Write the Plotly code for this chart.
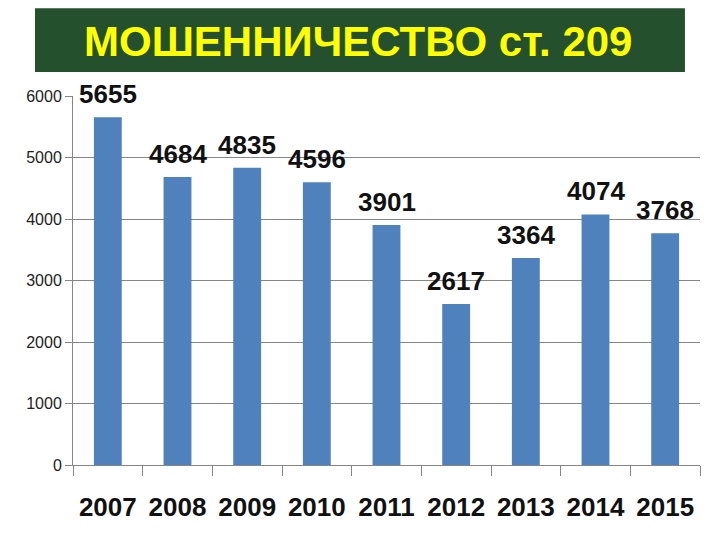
import plotly.graph_objects as go

years = ["2007", "2008", "2009", "2010", "2011", "2012", "2013", "2014", "2015"]
values = [5655, 4684, 4835, 4596, 3901, 2617, 3364, 4074, 3768]
y_ticks = [0, 1000, 2000, 3000, 4000, 5000, 6000]
title_text = "МОШЕННИЧЕСТВО ст. 209"

fig = go.Figure()
fig.add_trace(go.Bar(
    x=years, y=values,
    marker=dict(color="#4f81bd", line=dict(width=0)),
    hoverinfo="x+y",
))

for i, v in enumerate(values):
    fig.add_annotation(
        x=i, y=v, text="<b>" + str(v) + "</b>", showarrow=False,
        yanchor="bottom", yshift=6,
        font=dict(family="Liberation Sans", size=26, color="#111111"),
    )

# title banner
fig.add_shape(type="rect", xref="paper", yref="paper",
              x0=-0.0606, x1=0.976, y0=1.065, y1=1.238,
              fillcolor="#24502e", line=dict(width=0), layer="below")
fig.add_annotation(xref="paper", yref="paper", x=0.4545, y=1.148,
                   text="<b>" + title_text + "</b>", showarrow=False,
                   xanchor="center", yanchor="middle",
                   font=dict(family="Liberation Sans", size=42, color="#ffff00"))

fig.update_layout(
    width=720, height=540,
    margin=dict(l=73, r=20, t=96, b=75, autoexpand=False),
    paper_bgcolor="white", plot_bgcolor="white",
    bargap=0.6, showlegend=False,
    font=dict(family="Liberation Sans", color="#222222"),
)
fig.update_xaxes(
    type="category", range=[-0.5, len(years) - 0.5],
    automargin=False,
    showline=True, linecolor="#868686", linewidth=1,
    ticks="outside", tickson="boundaries", ticklen=10, tickcolor="#868686",
    tickfont=dict(family="Liberation Sans", size=26, color="#111111", weight="bold"),
    tickangle=0, ticklabelstandoff=19,
    showgrid=False,
)
fig.update_yaxes(
    range=[0, 6000], tickvals=y_ticks,
    automargin=False,
    showline=True, linecolor="#868686", linewidth=1,
    ticks="outside", ticklen=7, tickcolor="#868686",
    showgrid=True, gridcolor="#868686", gridwidth=1,
    zeroline=False,
    tickfont=dict(family="Liberation Sans", size=16, color="#222222"),
)

fig.write_html("out.html", config={"displayModeBar": False},
               post_script="document.body.style.margin='0';")
